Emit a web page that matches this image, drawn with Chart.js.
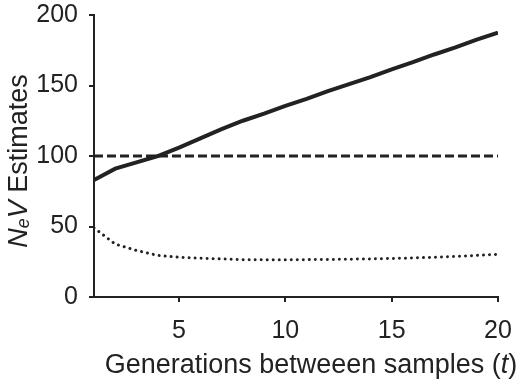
<!DOCTYPE html>
<html>
<head>
<meta charset="utf-8">
<script src="https://cdn.jsdelivr.net/npm/chart.js@4/dist/chart.umd.min.js"></script>
<style>
	html, body { margin: 0; padding: 0; background: #fff; }
	#wrap { width: 517px; height: 381px; }
</style>
</head>
<body>
<div id="wrap"><canvas id="neChart" width="517" height="381"></canvas></div>
<script>
const generations = [1, 2, 3, 4, 5, 6, 7, 8, 9, 10, 11, 12, 13, 14, 15, 16, 17, 18, 19, 20];
const solidValues = [83, 91, 95.5, 100, 106, 112.5, 119, 125, 130, 135.5, 140.5, 146, 151, 156, 161.5, 166.5, 172, 177, 182.5, 187.5];
const dashedValues = [100, 100, 100, 100, 100, 100, 100, 100, 100, 100, 100, 100, 100, 100, 100, 100, 100, 100, 100, 100];
const dottedValues = [49, 37.5, 33, 29.5, 28.2, 27.5, 27, 26.5, 26.4, 26.4, 26.5, 26.6, 26.8, 27, 27.3, 27.7, 28.2, 28.8, 29.5, 30.3];
const xTicks = [5, 10, 15, 20];
const yTicks = [0, 50, 100, 150, 200];

const INK = "#222";
const FONT = "Arial, 'Liberation Sans', sans-serif";

function toPoints(values) {
	return generations.map((g, i) => ({ x: g, y: values[i] }));
}

function createDataset(label, values, width, dash, cap) {
	return {
		label: label,
		data: toPoints(values),
		borderColor: INK,
		borderWidth: width,
		borderDash: dash,
		borderCapStyle: cap,
		pointRadius: 0,
		tension: 0,
		fill: false,
	};
}

// axis titles have italic parts, so draw them by hand
const titlePlugin = {
	id: "titles",
	afterDraw(chart) {
		const c = chart.ctx;
		c.save();
		c.fillStyle = INK;
		c.textBaseline = "alphabetic";

		// y title
		const yParts = [
			{ t: "N", f: "italic 27px " + FONT, dy: 0 },
			{ t: "e", f: "italic 18px " + FONT, dy: 2 },
			{ t: "V", f: "italic 27px " + FONT, dy: 0 },
			{ t: " Estimates", f: "27px " + FONT, dy: 0 },
		];
		let total = 0;
		yParts.forEach((p) => { c.font = p.f; p.w = c.measureText(p.t).width; total += p.w; });
		c.translate(27, 161);
		c.rotate(-Math.PI / 2);
		let x = -total / 2;
		yParts.forEach((p) => { c.font = p.f; c.fillText(p.t, x, p.dy); x += p.w; });
		c.setTransform(1, 0, 0, 1, 0, 0);

		// x title
		const xParts = [
			{ t: "Generations betweeen samples (", f: "27px " + FONT },
			{ t: "t", f: "italic 27px " + FONT },
			{ t: ")", f: "27px " + FONT },
		];
		total = 0;
		xParts.forEach((p) => { c.font = p.f; p.w = c.measureText(p.t).width; total += p.w; });
		x = 311 - total / 2;
		xParts.forEach((p) => { c.font = p.f; c.fillText(p.t, x, 373); x += p.w; });
		c.restore();
	},
};

const config = {
	type: "line",
	data: {
		datasets: [
			createDataset("solid", solidValues, 4, [], "butt"),
			createDataset("dashed", dashedValues, 3, [9, 4], "butt"),
			createDataset("dotted", dottedValues, 3, [0.01, 6], "round"),
		],
	},
	options: {
		responsive: false,
		animation: false,
		layout: { padding: { left: 0, top: 15, right: 19, bottom: 0 } },
		plugins: {
			legend: { display: false },
			tooltip: { enabled: false },
		},
		scales: {
			x: {
				type: "linear",
				min: 1,
				max: 20,
				afterBuildTicks: (scale) => { scale.ticks = xTicks.map((v) => ({ value: v })); },
				afterFit: (scale) => {
					scale.height = 84;
					scale.paddingLeft = 0;
					scale.paddingRight = 0;
				},
				border: { color: INK, width: 2 },
				grid: { drawOnChartArea: false, color: INK, lineWidth: 2, tickLength: 5 },
				ticks: { color: INK, padding: 14, maxRotation: 0, font: { family: FONT, size: 25 } },
				title: { display: false },
			},
			y: {
				min: 0,
				max: 200,
				afterBuildTicks: (scale) => { scale.ticks = yTicks.map((v) => ({ value: v })); },
				afterFit: (scale) => {
					scale.width = 94;
					scale.paddingTop = 0;
					scale.paddingBottom = 0;
				},
				border: { color: INK, width: 2 },
				grid: { drawOnChartArea: false, color: INK, lineWidth: 2, tickLength: 5 },
				ticks: { color: INK, padding: 11, font: { family: FONT, size: 25 } },
				title: { display: false },
			},
		},
	},
	plugins: [titlePlugin],
};

new Chart(document.getElementById("neChart").getContext("2d"), config);
</script>
</body>
</html>
